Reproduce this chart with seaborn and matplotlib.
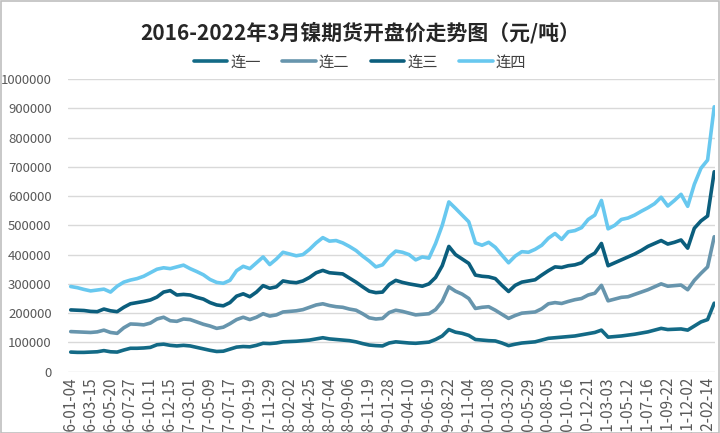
import numpy as np
import pandas as pd
import seaborn as sns
import matplotlib.pyplot as plt
from matplotlib.patches import Rectangle

# === data (stacked line values, 元/吨) ===
tick_labels = [
    "2016-01-04", "2016-03-15", "2016-05-20", "2016-07-27", "2016-10-11", "2016-12-15",
    "2017-03-01", "2017-05-09", "2017-07-17", "2017-09-19", "2017-11-29", "2018-02-02",
    "2018-04-25", "2018-07-04", "2018-09-06", "2018-11-19", "2019-01-28", "2019-04-10",
    "2019-06-19", "2019-08-22", "2019-11-04", "2020-01-08", "2020-03-20", "2020-05-29",
    "2020-08-05", "2020-10-16", "2020-12-21", "2021-03-03", "2021-05-12", "2021-07-16",
    "2021-09-22", "2021-12-02", "2022-02-14",
]
series_names = ["连一", "连二", "连三", "连四"]

lian1 = [
    67000, 66000, 66000, 67000, 68000, 72000, 68000, 67000, 74000, 80000,
    80000, 81000, 83000, 92000, 94000, 90000, 88000, 90000, 88000, 83000,
    78000, 73000, 69000, 70000, 77000, 84000, 86000, 85000, 90000, 97000,
    96000, 98000, 102000, 103000, 104000, 106000, 108000, 112000, 116000, 112000,
    110000, 108000, 106000, 102000, 96000, 91000, 89000, 88000, 98000, 102000,
    100000, 98000, 97000, 99000, 101000, 110000, 122000, 144000, 135000, 131000,
    124000, 110000, 108000, 106000, 105000, 98000, 89000, 94000, 98000, 100000,
    102000, 108000, 114000, 116000, 118000, 120000, 122000, 126000, 130000, 134000,
    142000, 118000, 120000, 122000, 125000, 128000, 132000, 136000, 142000, 148000,
    144000, 145000, 146000, 142000, 156000, 170000, 178000, 234000,
]
lian2 = [
    137000, 136000, 135000, 134000, 136000, 142000, 134000, 131000, 150000, 163000,
    162000, 160000, 166000, 180000, 186000, 174000, 172000, 180000, 178000, 170000,
    162000, 156000, 148000, 152000, 164000, 178000, 186000, 178000, 186000, 198000,
    190000, 194000, 204000, 206000, 208000, 212000, 220000, 228000, 232000, 226000,
    222000, 220000, 214000, 210000, 198000, 184000, 180000, 182000, 202000, 210000,
    206000, 200000, 194000, 196000, 198000, 212000, 240000, 290000, 275000, 265000,
    250000, 216000, 220000, 222000, 210000, 196000, 182000, 192000, 200000, 202000,
    204000, 215000, 232000, 236000, 233000, 240000, 246000, 250000, 262000, 268000,
    295000, 242000, 248000, 254000, 256000, 264000, 272000, 280000, 290000, 300000,
    292000, 294000, 296000, 280000, 312000, 336000, 358000, 461000,
]
lian3 = [
    211000, 210000, 209000, 206000, 205000, 214000, 208000, 205000, 220000, 232000,
    236000, 240000, 245000, 255000, 272000, 277000, 262000, 264000, 262000, 254000,
    248000, 236000, 228000, 225000, 236000, 258000, 266000, 256000, 272000, 294000,
    285000, 290000, 310000, 306000, 304000, 310000, 322000, 338000, 346000, 338000,
    336000, 334000, 320000, 306000, 290000, 275000, 270000, 272000, 298000, 312000,
    305000, 300000, 296000, 292000, 300000, 322000, 362000, 428000, 400000, 385000,
    370000, 330000, 326000, 324000, 318000, 295000, 274000, 295000, 306000, 310000,
    314000, 330000, 345000, 358000, 356000, 362000, 365000, 372000, 392000, 405000,
    438000, 362000, 372000, 382000, 392000, 402000, 414000, 428000, 438000, 448000,
    436000, 442000, 450000, 422000, 490000, 515000, 532000, 683000,
]
lian4 = [
    291000, 287000, 281000, 276000, 279000, 282000, 272000, 292000, 306000, 313000,
    318000, 326000, 338000, 350000, 355000, 352000, 358000, 364000, 352000, 342000,
    331000, 315000, 305000, 302000, 312000, 345000, 360000, 352000, 372000, 392000,
    366000, 385000, 408000, 402000, 396000, 400000, 418000, 440000, 458000, 446000,
    448000, 440000, 428000, 414000, 395000, 378000, 358000, 365000, 392000, 412000,
    408000, 400000, 382000, 392000, 388000, 438000, 500000, 580000, 558000, 535000,
    512000, 440000, 432000, 442000, 425000, 398000, 372000, 395000, 410000, 408000,
    418000, 432000, 456000, 472000, 452000, 478000, 482000, 492000, 520000, 535000,
    585000, 488000, 500000, 520000, 525000, 535000, 548000, 560000, 574000, 596000,
    566000, 585000, 606000, 565000, 640000, 695000, 723000, 905000,
]

colors = ["#136a86", "#6795ad", "#0b5e7d", "#68c8ef"]

# === long-form table ===
frames = []
for name, vals in zip(series_names, [lian1, lian2, lian3, lian4]):
    frames.append(pd.DataFrame({"idx": np.arange(len(vals)), "value": vals, "series": name}))
df = pd.concat(frames, ignore_index=True)

# === plot ===
sns.set_theme(style="white")
plt.rcParams["font.family"] = ["Noto Sans CJK SC", "DejaVu Sans"]

fig = plt.figure(figsize=(7.2, 4.33), dpi=100)
ax = fig.add_axes([0.0949, 0.1416, 0.898, 0.676])

sns.lineplot(data=df, x="idx", y="value", hue="series", hue_order=series_names,
             palette=colors, linewidth=2.6, ax=ax, legend=True)

ax.set_xlim(-0.36, 97.1)
ax.set_ylim(0, 1000000)
ax.set_yticks(np.arange(0, 1000001, 100000))
ax.set_yticklabels([str(v) for v in range(0, 1000001, 100000)], fontsize=9.5, color="#595959")
ax.set_xticks(np.arange(0, 3 * len(tick_labels), 3))
ax.set_xticklabels(tick_labels, rotation=90, fontsize=11, color="#595959")
ax.tick_params(axis="y", length=0, pad=12)
ax.tick_params(axis="x", length=0, pad=4)
ax.yaxis.grid(True, color="#d9d9d9", linewidth=1)
ax.xaxis.grid(False)
for s in ax.spines.values():
    s.set_visible(False)
ax.set_xlabel("")
ax.set_ylabel("")

handles, labels = ax.get_legend_handles_labels()
ax.get_legend().remove()
fig.legend(handles, labels, loc="center", bbox_to_anchor=(0.5, 1 - 62 / 433), ncol=4,
           frameon=False, fontsize=11, handlelength=2.2, columnspacing=1.4,
           handletextpad=0.2, labelcolor="#404040")

fig.text(0.5, 1 - 33 / 433, "2016-2022年3月镍期货开盘价走势图（元/吨）", ha="center", va="center",
         fontsize=15, fontweight="bold", color="#262626")

fig.patches.append(Rectangle((0.001, 0.001), 0.997, 0.997, transform=fig.transFigure,
                             fill=False, edgecolor="#bfbfbf", linewidth=1.2))

fig.savefig("out.png", dpi=100)
